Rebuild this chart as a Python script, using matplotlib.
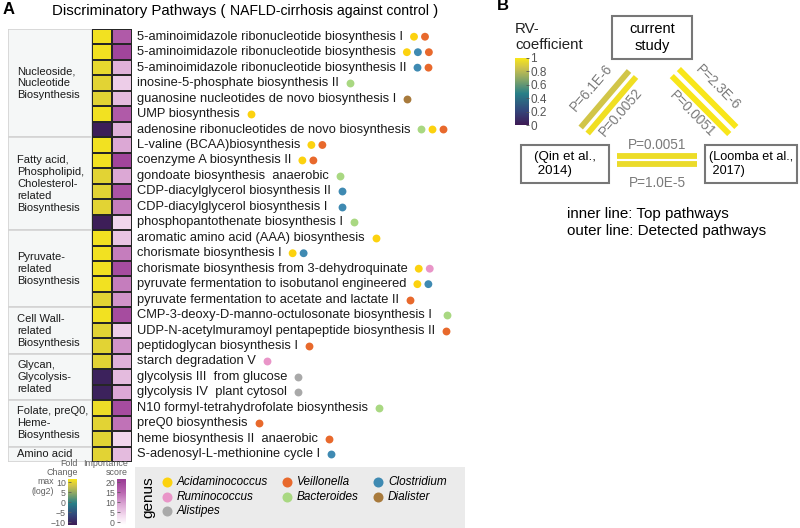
import matplotlib
matplotlib.use('Agg')
import matplotlib.pyplot as plt
import numpy as np
from matplotlib.colors import LinearSegmentedColormap, Normalize
from matplotlib.patches import Rectangle
import matplotlib.cm as cm

plt.rcParams['font.family'] = ['Liberation Sans', 'DejaVu Sans']

# ---------------- data: panel A ----------------
pathways = [
    "5-aminoimidazole ribonucleotide biosynthesis I",
    "5-aminoimidazole ribonucleotide biosynthesis",
    "5-aminoimidazole ribonucleotide biosynthesis II",
    "inosine-5-phosphate biosynthesis II",
    "guanosine nucleotides de novo biosynthesis I",
    "UMP biosynthesis",
    "adenosine ribonucleotides de novo biosynthesis",
    "L-valine (BCAA)biosynthesis",
    "coenzyme A biosynthesis II",
    "gondoate biosynthesis  anaerobic",
    "CDP-diacylglycerol biosynthesis II",
    "CDP-diacylglycerol biosynthesis I ",
    "phosphopantothenate biosynthesis I",
    "aromatic amino acid (AAA) biosynthesis",
    "chorismate biosynthesis I",
    "chorismate biosynthesis from 3-dehydroquinate",
    "pyruvate fermentation to isobutanol engineered",
    "pyruvate fermentation to acetate and lactate II",
    "CMP-3-deoxy-D-manno-octulosonate biosynthesis I ",
    "UDP-N-acetylmuramoyl pentapeptide biosynthesis II",
    "peptidoglycan biosynthesis I",
    "starch degradation V",
    "glycolysis III  from glucose",
    "glycolysis IV  plant cytosol",
    "N10 formyl-tetrahydrofolate biosynthesis",
    "preQ0 biosynthesis",
    "heme biosynthesis II  anaerobic",
    "S-adenosyl-L-methionine cycle I",
]
fold_change = [12, 12, 11, 10.5, 10.5, 12, -12, 12, 12, 10.5, 10.5, 10.5, -12, 12,
               12, 12, 12, 10.5, 12, 10.5, 10.5, 10.5, -11.5, -11.5, 11.5, 10.5, 10.5, 10.5]
importance = [17, 20, 8, 5, 7, 17, 8, 9, 20, 9, 18, 13, 4, 6,
              13, 19, 13, 11, 19, 5, 11, 8, 7, 9, 19, 14, 4, 7]

genus_names = ["Acidaminococcus", "Veillonella", "Clostridium",
               "Ruminococcus", "Bacteroides", "Dialister", "Alistipes"]
genus_colors = ["#fcd20f", "#e8692c", "#3f8ab2", "#e995c8", "#a9d882", "#a87a3c", "#a9a9a9"]
# genus indices per pathway (order of dots)
genus_hits = [[0, 1], [0, 2, 1], [2, 1], [4], [5], [0], [4, 0, 1],
              [0, 1], [0, 1], [4], [2], [2], [4],
              [0], [0, 2], [0, 3], [0, 2], [1],
              [4], [1], [1],
              [3], [6], [6],
              [4], [1], [1],
              [2]]

groups = ["Nucleoside,\nNucleotide\nBiosynthesis",
          "Fatty acid,\nPhospholipid,\nCholesterol-\nrelated\nBiosynthesis",
          "Pyruvate-\nrelated\nBiosynthesis",
          "Cell Wall-\nrelated\nBiosynthesis",
          "Glycan,\nGlycolysis-\nrelated",
          "Folate, preQ0,\nHeme-\nBiosynthesis",
          "Amino acid"]
group_sizes = [7, 6, 5, 3, 3, 3, 1]

# ---------------- data: panel B ----------------
studies = ["current\nstudy", "(Qin et al.,\n 2014)", "(Loomba et al.,\n 2017)"]
edges = [(0, 1), (0, 2), (1, 2)]
rv_outer = [0.86, 1.0, 0.95]
rv_inner = [0.97, 1.0, 0.96]
p_outer = ["P=6.1E-6", "P=2.3E-6", "P=1.0E-5"]
p_inner = ["P=0.0052", "P=0.0051", "P=0.0051"]

W, H = 800, 528
fig = plt.figure(figsize=(W / 100, H / 100), dpi=100)
ov = fig.add_axes([0, 0, 1, 1], zorder=5)
ov.set_xlim(0, W)
ov.set_ylim(H, 0)
ov.axis('off')


def px_axes(x0, y0, x1, y1, **kw):
    return fig.add_axes([x0 / W, 1 - y1 / H, (x1 - x0) / W, (y1 - y0) / H], **kw)


vir = LinearSegmentedColormap.from_list(
    'vir', [(0, '#3e1a55'), (0.22, '#33477b'), (0.47, '#287f87'),
            (0.68, '#86a567'), (0.85, '#cdc24c'), (1, '#f8e61a')])
imp_cmap = LinearSegmentedColormap.from_list(
    'imp', [(0, '#ffffff'), (0.2, '#f3dbef'), (0.45, '#dba7d4'),
            (0.7, '#bb69b2'), (1, '#983993')])
fc_norm = Normalize(-12.5, 12.5)
imp_norm = Normalize(-1.1, 21.7)

n = len(pathways)
grid_col = '#262626'

# heatmap
ax_hm = px_axes(92, 29, 132, 462)
yedges = np.arange(n + 1)
ax_hm.pcolormesh([0, 1], yedges, np.array(fold_change)[:, None], cmap=vir, norm=fc_norm,
                 edgecolors=grid_col, linewidth=1.3)
ax_hm.pcolormesh([1, 2], yedges, np.array(importance)[:, None], cmap=imp_cmap, norm=imp_norm,
                 edgecolors=grid_col, linewidth=1.3)
ax_hm.set_xlim(0, 2)
ax_hm.set_ylim(n, 0)
ax_hm.axis('off')

# group column
ax_g = px_axes(8, 29, 92, 462)
sizes = np.array(group_sizes)
starts = np.concatenate([[0], np.cumsum(sizes)[:-1]])
ax_g.barh(starts + sizes / 2, 1, height=sizes, left=0, color='#f5f7f7',
          edgecolor='#d4d4d4', linewidth=1.2)
for s, sz, lab in zip(starts, sizes, groups):
    ax_g.text(0.11, s + sz / 2, lab, ha='left', va='center', fontsize=8,
              linespacing=1.25, color='#1a1a1a')
ax_g.set_xlim(0, 1)
ax_g.set_ylim(n, 0)
ax_g.axis('off')

# titles
ov.text(3, 10, "A", fontsize=12, fontweight='bold', ha='left', va='center')
ov.text(497, 6, "B", fontsize=12, fontweight='bold', ha='left', va='center')
renderer = fig.canvas.get_renderer()
inv = ov.transData.inverted()


def right_end(t):
    bb = t.get_window_extent(renderer)
    return inv.transform((bb.x1, bb.y0))[0]


t1 = ov.text(52, 11, "Discriminatory Pathways ( ", fontsize=10.8, ha='left', va='center')
t2 = ov.text(right_end(t1), 11, "NAFLD-cirrhosis against control", fontsize=10.1,
             ha='left', va='center')
ov.text(right_end(t2), 11, " )", fontsize=10.8, ha='left', va='center')

# row labels + genus dots
for i, (lab, hits) in enumerate(zip(pathways, genus_hits)):
    disp = ax_hm.transData.transform((2, i + 0.5))
    yc = inv.transform(disp)[1]
    t = ov.text(137, yc, lab, fontsize=9.3, ha='left', va='center', color='#1a1a1a')
    x_end = right_end(t)
    xs = x_end + 11 + 11 * np.arange(len(hits))
    ov.scatter(xs, [yc] * len(hits), s=32, c=[genus_colors[g] for g in hits],
               linewidths=0, zorder=6)

# legends: fold change / importance colourbars
leg_grey = '#606060'
cax1 = px_axes(68, 479, 77, 525)
cb1 = fig.colorbar(cm.ScalarMappable(norm=Normalize(-11.5, 11.5), cmap=vir), cax=cax1,
                   ticks=[-10, -5, 0, 5, 10])
cax2 = px_axes(117, 479, 126, 525)
cb2 = fig.colorbar(cm.ScalarMappable(norm=Normalize(-1.5, 21.5), cmap=imp_cmap), cax=cax2,
                   ticks=[0, 5, 10, 15, 20])
for cb in (cb1, cb2):
    cb.outline.set_visible(False)
    cb.ax.yaxis.set_ticks_position('left')
    cb.ax.tick_params(labelsize=6.3, colors=leg_grey, length=2, width=0.6, pad=1.5,
                      direction='in')
ov.text(78, 468, "Fold\nChange", fontsize=6.4, ha='right', va='center', color=leg_grey,
        linespacing=0.95)
ov.text(128, 468, "Importance\nscore", fontsize=6.4, ha='right', va='center', color=leg_grey,
        linespacing=0.95)
y10 = inv.transform(cax1.transData.transform((0, 10)))[1]
y5 = inv.transform(cax1.transData.transform((0, 5)))[1]
ov.text(54, y10, "max", fontsize=6.3, ha='right', va='center', color=leg_grey)
ov.text(54, y5, "(log2)", fontsize=6.3, ha='right', va='center', color=leg_grey)

# genus legend
ov.add_patch(Rectangle((135, 467), 330, 62, facecolor='#ebebeb', edgecolor='none', zorder=1))
ov.text(148, 497, "genus", rotation=90, fontsize=11, ha='center', va='center')
col_x = [167, 287, 378]
row_y = [482, 497, 511]
for k, (gname, gcol) in enumerate(zip(genus_names, genus_colors)):
    r, c = divmod(k, 3)
    ov.scatter([col_x[c]], [row_y[r]], s=52, color=gcol, linewidths=0, zorder=6)
    ov.text(col_x[c] + 10, row_y[r], gname, fontsize=8.5, style='italic',
            ha='left', va='center', zorder=6)

# ---------------- panel B ----------------
ov.text(515, 37, "RV-\ncoefficient", fontsize=10.8, ha='left', va='center',
        linespacing=1.15, color='#222222')
cax3 = px_axes(515, 58, 529, 125)
cb3 = fig.colorbar(cm.ScalarMappable(norm=Normalize(0, 1), cmap=vir), cax=cax3,
                   ticks=[0, 0.2, 0.4, 0.6, 0.8, 1])
cb3.ax.set_yticklabels(["0", "0.2", "0.4", "0.6", "0.8", "1"])
cb3.outline.set_visible(False)
cb3.ax.tick_params(labelsize=8.5, colors='#555555', length=2.5, width=0.6, pad=1,
                   direction='in')

box_centres = [(652, 37.5), (565, 164), (751, 164)]
box_sizes = [(80, 43), (88, 38), (92, 38)]
box_font = [10.5, 9.6, 9.1]
for (cx, cy), (bw, bh), name, fs in zip(box_centres, box_sizes, studies, box_font):
    ov.add_patch(Rectangle((cx - bw / 2, cy - bh / 2), bw, bh, facecolor='white',
                           edgecolor='#777777', linewidth=1.5, zorder=3))
    ov.text(cx, cy, name, fontsize=fs, ha='center', va='center', linespacing=1.2,
            multialignment='left' if '(' in name else 'center', zorder=4)

anchors = np.array([(653, 50), (559, 160), (762, 160)], dtype=float)
edge_trim = [(0.218, 0.732), (0.205, 0.732), (0.286, 0.68)]
pair_gap = [4.6, 5.0, 4.0]
lab_out = [22, 20, 23]
lab_in = [16, 17, 15]
centroid = anchors.mean(axis=0)
for k, (a, b) in enumerate(edges):
    A, B = anchors[a], anchors[b]
    d = B - A
    u = d / np.hypot(*d)
    nrm = np.array([-u[1], u[0]])
    mid = A + d * np.mean(edge_trim[k])
    if np.dot(mid - centroid, nrm) < 0:
        nrm = -nrm
    p0 = A + d * edge_trim[k][0]
    p1 = A + d * edge_trim[k][1]
    ang = np.degrees(np.arctan2(-d[1], d[0]))
    if ang > 90:
        ang -= 180
    if ang < -90:
        ang += 180
    for side, rv, ptxt, loff in ((1, rv_outer[k], p_outer[k], lab_out[k]),
                                 (-1, rv_inner[k], p_inner[k], lab_in[k])):
        q0 = p0 + side * pair_gap[k] * nrm
        q1 = p1 + side * pair_gap[k] * nrm
        ov.plot([q0[0], q1[0]], [q0[1], q1[1]], color=vir(rv), lw=4.2,
                solid_capstyle='butt', zorder=2)
        lp = mid + side * loff * nrm
        ov.text(lp[0], lp[1], ptxt, fontsize=9.8, color='#7a7a7a', rotation=ang,
                rotation_mode='anchor', ha='center', va='center')

ov.text(567, 214, "inner line: Top pathways", fontsize=10.9, ha='left', va='center')
ov.text(567, 231, "outer line: Detected pathways", fontsize=10.9, ha='left', va='center')

fig.savefig("out.png", dpi=100)
